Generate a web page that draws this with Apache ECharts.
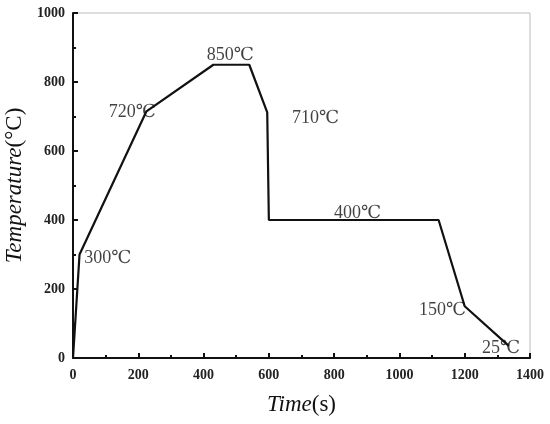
<!DOCTYPE html>
<html>
<head>
<meta charset="utf-8">
<script src="https://cdn.jsdelivr.net/npm/echarts@6/dist/echarts.min.js"></script>
<style>
  html, body { margin: 0; padding: 0; background: #fff; }
  #chart { width: 550px; height: 424px; }
</style>
</head>
<body>
<div id="chart"></div>
<script>
// 热处理工艺曲线
var timeS = [0, 20, 225, 430, 540, 595, 600, 1120, 1200, 1335];
var tempC = [0, 300, 715, 850, 850, 712, 400, 400, 150, 35];

// 标注文字 (位置为数据坐标)
var noteX = [107, 182, 482, 743, 872, 1132, 1311];
var noteY = [290, 711, 878, 696, 419, 137, 28];
var noteText = ['300℃', '720℃', '850℃', '710℃', '400℃', '150℃', '25℃'];

var serif = '"Liberation Serif", "DejaVu Serif", "Noto Sans CJK SC", serif';

var lineData = timeS.map(function(t, i) { return [t, tempC[i]]; });
var noteData = noteX.map(function(x, i) { return { value: [x, noteY[i]], name: noteText[i] }; });

function plain(v) { return String(v); }

var myChart = echarts.init(document.getElementById('chart'));
var option = {
    animation: false,
    grid: {
        left: 73,
        right: 20,
        top: 13,
        bottom: 66,
        outerBoundsMode: 'none',
        containLabel: false,
        show: true,
        borderColor: '#bbb',
        borderWidth: 1
    },
    xAxis: {
        type: 'value',
        min: 0,
        max: 1400,
        interval: 200,
        name: '{i|Time}(s)',
        nameLocation: 'middle',
        nameGap: 35,
        nameTextStyle: {
            fontFamily: serif,
            fontSize: 23,
            color: '#111',
            rich: { i: { fontStyle: 'italic', fontFamily: serif, fontSize: 23, color: '#111' } }
        },
        axisLine: { lineStyle: { color: '#111', width: 2 } },
        axisTick: { inside: true, length: 5, lineStyle: { color: '#111', width: 2 } },
        minorTick: { show: true, splitNumber: 2, length: 3, lineStyle: { color: '#111', width: 2 } },
        axisLabel: { formatter: plain, fontFamily: serif, fontWeight: 'bold', fontSize: 14, color: '#222', margin: 10 },
        splitLine: { show: false }
    },
    yAxis: {
        type: 'value',
        min: 0,
        max: 1000,
        interval: 200,
        name: '{i|Temperature}(°C)',
        nameLocation: 'middle',
        nameGap: 44,
        nameTextStyle: {
            fontFamily: serif,
            fontSize: 23,
            color: '#111',
            rich: { i: { fontStyle: 'italic', fontFamily: serif, fontSize: 23, color: '#111' } }
        },
        axisLine: { show: true, lineStyle: { color: '#111', width: 2 } },
        axisTick: { show: true, inside: true, length: 5, lineStyle: { color: '#111', width: 2 } },
        minorTick: { show: true, splitNumber: 2, length: 3, lineStyle: { color: '#111', width: 2 } },
        axisLabel: { formatter: plain, fontFamily: serif, fontWeight: 'bold', fontSize: 14, color: '#222', margin: 8 },
        splitLine: { show: false }
    },
    series: [{
        type: 'line',
        data: lineData,
        showSymbol: false,
        lineStyle: { color: '#111', width: 2.2 },
        z: 3
    }, {
        type: 'scatter',
        data: noteData,
        symbolSize: 0,
        silent: true,
        label: {
            show: true,
            position: [0, 0],
            align: 'center',
            verticalAlign: 'middle',
            formatter: '{b}',
            fontFamily: serif,
            fontSize: 18,
            color: '#111'
        },
        z: 4
    }]
};
myChart.setOption(option);
</script>
</body>
</html>
